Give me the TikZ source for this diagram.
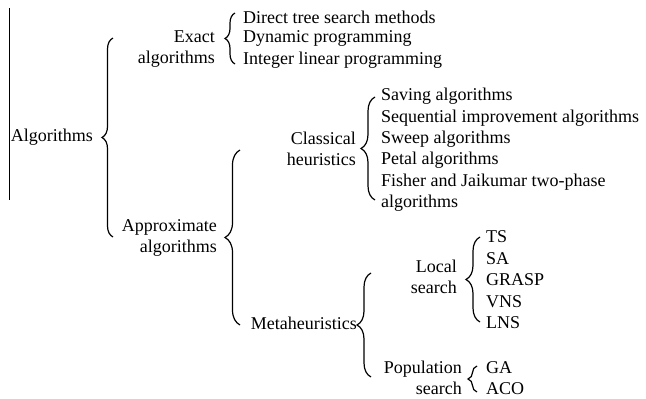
\documentclass[tikz,border=0pt]{standalone}
\usepackage{fontspec}
\setmainfont{Liberation Serif}
\usetikzlibrary{decorations.pathreplacing}

\tikzset{
  txt/.style={inner sep=0pt, font=\fontsize{18}{21}\selectfont},
  lbl/.style={txt, anchor=east, align=right},
  itm/.style={txt, anchor=west},
  brc/.style={decorate, decoration={brace, amplitude=#1}, line width=1.2pt},
  brc/.default=12pt
}

\begin{document}
\begin{tikzpicture}[x=1pt,y=-1pt]
  \useasboundingbox (0,0) rectangle (646,399);
  \draw[line width=0.8pt] (9,8) -- (9,200);

  % root
  \node[lbl] (alg) at (93,137) {Algorithms};
  \coordinate (algT) at (113,38);
  \coordinate (algB) at (113,237);
  \draw[brc=11pt] (algB) -- (algT);

  % exact branch
  \node[lbl] (exact) at (215,49.5) {Exact\\algorithms};
  \coordinate (exT) at (235,13);
  \coordinate (exB) at (235,64);
  \draw[brc=10pt] (exB) -- (exT);
  \node[itm] (dts) at (243,17) {Direct tree search methods};
  \node[itm] (dyn) at (243,38.5) {Dynamic programming};
  \node[itm] (ilp) at (243,60) {Integer linear programming};

  % approximate branch
  \node[lbl] (approx) at (217,237.5) {Approximate\\algorithms};
  \coordinate (apT) at (240,150);
  \coordinate (apB) at (240,325);
  \draw[brc=15pt] (apB) -- (apT);

  % classical heuristics
  \node[lbl] (clas) at (356,149) {Classical\\heuristics};
  \coordinate (clT) at (375,97);
  \coordinate (clB) at (375,200);
  \draw[brc=14pt] (clB) -- (clT);
  \node[itm] (sav) at (381,96) {Saving algorithms};
  \node[itm] (seq) at (381,118) {Sequential improvement algorithms};
  \node[itm] (swp) at (381,139.5) {Sweep algorithms};
  \node[itm] (pet) at (381,160.5) {Petal algorithms};
  \node[itm] (fis) at (381,182) {Fisher and Jaikumar two-phase};
  \node[itm] (fis2) at (381,203) {algorithms};

  % metaheuristics
  \node[lbl] (meta) at (357,323) {Metaheuristics};
  \coordinate (mhT) at (371,273);
  \coordinate (mhB) at (371,377);
  \draw[brc=14pt] (mhB) -- (mhT);

  % local search
  \node[lbl] (loc) at (457,277) {Local\\search};
  \coordinate (lsT) at (480,237);
  \coordinate (lsB) at (480,322);
  \draw[brc=14pt] (lsB) -- (lsT);
  \node[itm] (ts) at (486,237) {TS};
  \node[itm] (sa) at (486,259) {SA};
  \node[itm] (grasp) at (486,280) {GRASP};
  \node[itm] (vns) at (486,302) {VNS};
  \node[itm] (lns) at (486,323) {LNS};

  % population search
  \node[lbl] (pop) at (462,378) {Population\\search};
  \coordinate (psT) at (477,366);
  \coordinate (psB) at (477,392);
  \draw[brc=9pt] (psB) -- (psT);
  \node[itm] (ga) at (486,368) {GA};
  \node[itm] (aco) at (486,389) {ACO};
\end{tikzpicture}
\end{document}
